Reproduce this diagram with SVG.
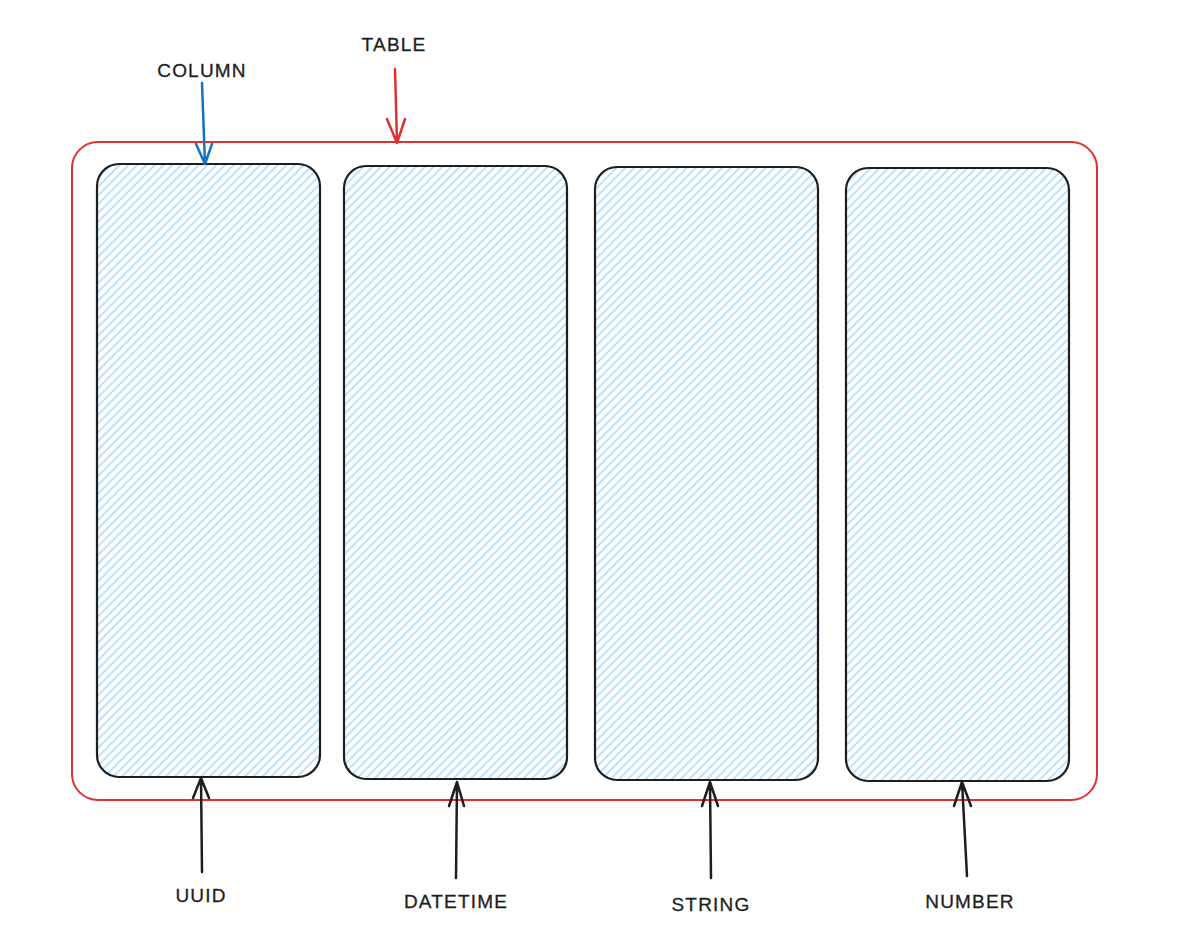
<svg xmlns="http://www.w3.org/2000/svg" width="1186" height="937" viewBox="0 0 1186 937">
<style>
.lbl{font-family:"Liberation Sans",Arial,sans-serif;font-size:19px;fill:#1e1e1e;letter-spacing:1.2px;text-anchor:middle;stroke:#1e1e1e;stroke-width:0.3}
.col{fill:url(#hatch);stroke:#1e1e1e;stroke-width:2.2}
.arr{fill:none;stroke-width:2.5;stroke-linecap:round;stroke-linejoin:round}
</style>
<defs>
<pattern id="hatch" patternUnits="userSpaceOnUse" width="6.2" height="6.2" patternTransform="rotate(45)">
<line x1="3" y1="0" x2="3" y2="6.2" stroke="#a5d8ff" stroke-width="1.5"/>
</pattern>
</defs>
<rect width="1186" height="937" fill="#ffffff"/>
<g id="table">
<rect x="72" y="142" width="1025" height="658" rx="26" fill="none" stroke="#e03131" stroke-width="2"/>
</g>
<g id="col-uuid"><rect class="col" x="97" y="164" width="223" height="613" rx="22"/></g>
<g id="col-datetime"><rect class="col" x="344" y="166" width="223" height="613" rx="22"/></g>
<g id="col-string"><rect class="col" x="595" y="167" width="223" height="613" rx="22"/></g>
<g id="col-number"><rect class="col" x="846" y="168" width="223" height="613" rx="22"/></g>
<g id="connectors">
<path class="arr" stroke="#1971c2" d="M202 83 L205 164 M196 144 L205 164 L212 144"/>
<path class="arr" stroke="#e03131" d="M395 69 L397 143 M387 119 L397 143 L405 119"/>
<path class="arr" stroke="#1e1e1e" d="M202 872 L201 778 M193 798 L201 778 L209 798"/>
<path class="arr" stroke="#1e1e1e" d="M456 878 L457 782 M449 806 L457 782 L464 806"/>
<path class="arr" stroke="#1e1e1e" d="M711 878 L710 782 M702 806 L710 782 L718 806"/>
<path class="arr" stroke="#1e1e1e" d="M967 876 L962 782 M954 806 L962 782 L971 806"/>
</g>
<g id="labels">
<text class="lbl" x="202" y="77">COLUMN</text>
<text class="lbl" x="394" y="51">TABLE</text>
<text class="lbl" x="201" y="902">UUID</text>
<text class="lbl" x="456" y="908">DATETIME</text>
<text class="lbl" x="711" y="911">STRING</text>
<text class="lbl" x="970" y="908">NUMBER</text>
</g>
</svg>
